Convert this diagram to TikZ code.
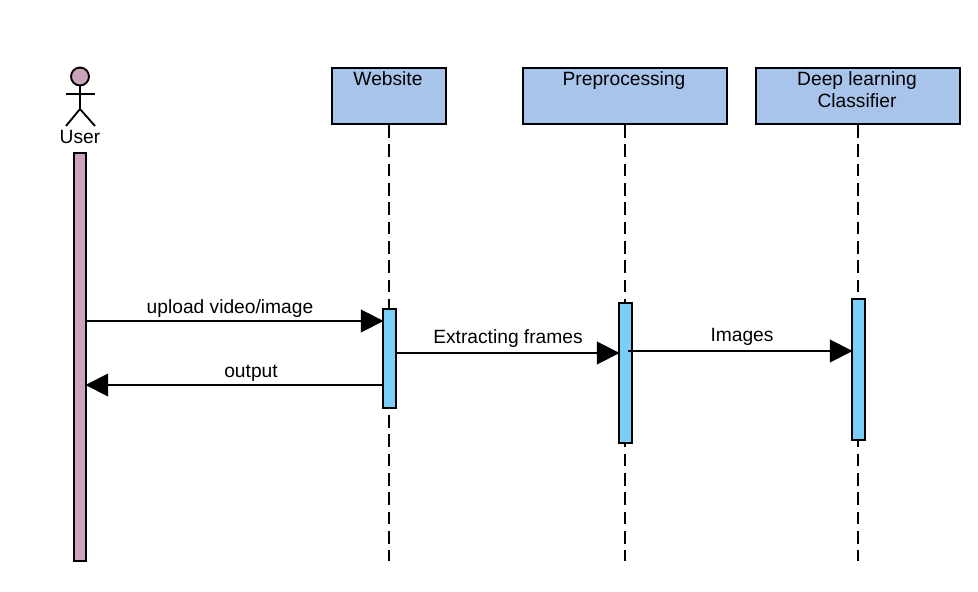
\documentclass[tikz,border=0pt]{standalone}
\usepackage{fontspec}
\setmainfont{Liberation Sans}
\usetikzlibrary{arrows.meta}
\definecolor{headblue}{HTML}{A9C4EB}
\definecolor{actblue}{HTML}{7BCFF7}
\definecolor{userpink}{HTML}{CDA2BE}
\begin{document}
\begin{tikzpicture}[
    x=0.75pt, y=-0.75pt,
    font=\fontsize{14.4pt}{16.5pt}\selectfont,
    headbox/.style={
        draw, line width=1.6pt, fill=headblue, inner sep=0pt,
        minimum height=42pt
    },
    headtext/.style={align=center, anchor=north, inner sep=0pt},
    actbar/.style={
        draw, line width=1.6pt, fill=actblue, inner sep=0pt,
        minimum width=9.75pt
    },
    lifeline/.style={line width=1.4pt, dash pattern=on 9.5pt off 5pt},
    message/.style={-{Triangle[length=17pt,width=17pt]}, line width=1.4pt, shorten >=-1.2pt},
    msgtext/.style={inner sep=0pt},
    stick/.style={line width=1.4pt}
]
\useasboundingbox (0,0) rectangle (978,592);

% Header boxes
\node[headbox, minimum width=85.5pt]  (website) at (389,96)   {};
\node[headbox, minimum width=153pt]   (preproc) at (625,96)   {};
\node[headbox, minimum width=153pt]   (classif) at (858,96)   {};

\node[headtext] (websitetext) at (388,71) {Website};
\node[headtext] (preproctext) at (624,71) {Preprocessing};
\node[headtext] (classiftext) at (857,71) {Deep learning\\Classifier};

% Lifeline ends
\coordinate (websiteend) at (389,561);
\coordinate (preprocend) at (625,561);
\coordinate (classifend) at (858,561);

\draw[lifeline] (website) -- (websiteend);
\draw[lifeline] (preproc) -- (preprocend);
\draw[lifeline] (classif) -- (classifend);

% Actor
\node[draw, circle, line width=1.4pt, fill=userpink, minimum size=13.5pt, inner sep=0pt] (head) at (80,76.5) {};
\coordinate (armleft) at (66,94);
\coordinate (armright) at (95,94);
\coordinate (hip) at (80,109);
\coordinate (footleft) at (66,126);
\coordinate (footright) at (95,126);
\draw[stick] (head) -- (hip);
\draw[stick] (armleft) -- (armright);
\draw[stick] (footleft) -- (hip) -- (footright);
\node[msgtext] (usertext) at (80,137) {User};

% Activation bars
\node[actbar, fill=userpink, minimum width=9pt, minimum height=305.75pt] (userbar) at (80,357) {};
\node[actbar, minimum height=74.25pt]  (webbar)  at (389.5,358.5) {};
\node[actbar, minimum height=105pt]    (prepbar) at (625.5,373)   {};
\node[actbar, minimum height=105.75pt] (classbar) at (858.5,369.5) {};

% Messages
\draw[message] (userbar.east |- 0,321) -- (webbar.west |- 0,321);
\draw[message] (webbar.west |- 0,385) -- (userbar.east |- 0,385);
\draw[message] (webbar.east |- 0,353) -- (prepbar.west |- 0,353);
\draw[message] ([xshift=2pt]prepbar.center |- 0,351) -- (classbar.west |- 0,351);

\node[msgtext] (uploadtext) at (230,309) {upload video/image};
\node[msgtext] (outputtext) at (251,373) {output};
\node[msgtext] (extracttext) at (508,339) {Extracting frames};
\node[msgtext] (imagestext) at (742,337) {Images};

\end{tikzpicture}
\end{document}
